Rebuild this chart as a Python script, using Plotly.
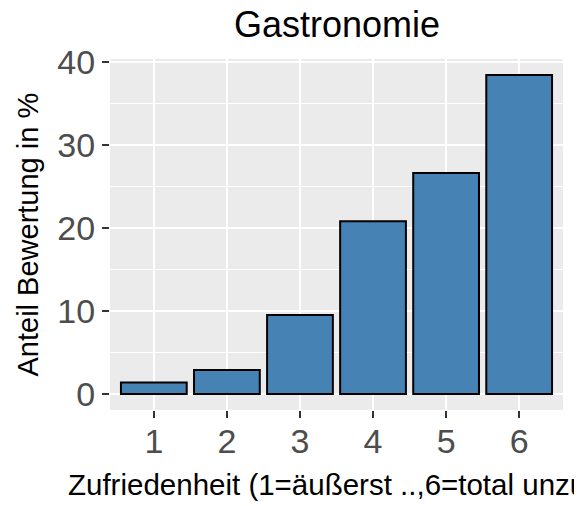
import plotly.graph_objects as go

categories = [1, 2, 3, 4, 5, 6]
values = [1.4, 2.9, 9.5, 20.8, 26.6, 38.4]
y_ticks = [0, 10, 20, 30, 40]
tick_labels_x = ["1", "2", "3", "4", "5", "6"]

title_text = "Gastronomie"
x_title = "Zufriedenheit (1=äußerst ..,6=total unzufrieden)"
y_title = "Anteil Bewertung in %"

FONT = "Liberation Sans, Arial, sans-serif"
W, H = 582, 506
OFF = 8  # page body margin offset
L, R, T, B = 110 - OFF, 19 + OFF, 59 - OFF, 96 + OFF
pw = W - L - R
ph = H - T - B

ymax = max(values)
yr = [-0.05 * ymax, 1.05 * ymax]

fig = go.Figure()
fig.add_trace(go.Bar(
    x=categories, y=values, width=0.9,
    marker=dict(color="#4682B4", line=dict(color="black", width=2)),
    hoverinfo="x+y",
))

fig.update_layout(
    width=W, height=H,
    margin=dict(l=L, r=R, t=T, b=B, pad=0),
    paper_bgcolor="white",
    plot_bgcolor="#EBEBEB",
    showlegend=False,
    font=dict(family=FONT),
    title=dict(text=title_text, x=(337 - 110) / pw, xref="paper", xanchor="center",
               y=1 - (24 - OFF) / H, yref="container", yanchor="middle",
               font=dict(size=36, color="black", family=FONT)),
    xaxis=dict(
        range=[0.4, 6.6], tickmode="array", tickvals=categories, ticktext=tick_labels_x,
        showgrid=True, gridcolor="white", gridwidth=2,
        ticks="outside", ticklen=7, tickwidth=1.5, tickcolor="#333333",
        tickfont=dict(size=34, color="#4D4D4D", family=FONT),
        ticklabelstandoff=-6,
        zeroline=False, showline=False, fixedrange=True,
    ),
    yaxis=dict(
        range=yr, tickmode="array", tickvals=y_ticks,
        showgrid=True, gridcolor="white", gridwidth=2,
        minor=dict(tickvals=[5, 15, 25, 35], showgrid=True, gridcolor="white", gridwidth=1, ticks=""),
        ticks="outside", ticklen=7, tickwidth=1.5, tickcolor="#333333",
        tickfont=dict(size=34, color="#4D4D4D", family=FONT),
        zeroline=False, showline=False, fixedrange=True,
    ),
    annotations=[
        dict(text=y_title, xref="paper", yref="paper", x=(27 - 110) / pw, y=0.5,
             xanchor="center", yanchor="middle", textangle=-90, showarrow=False,
             font=dict(size=29, color="black", family=FONT)),
        dict(text=x_title, xref="paper", yref="paper", x=(66 - 110) / pw, y=-(485 - 410) / ph,
             xanchor="left", yanchor="middle", showarrow=False,
             font=dict(size=29.5, color="black", family=FONT)),
    ],
)

fig.write_html("out.html")
